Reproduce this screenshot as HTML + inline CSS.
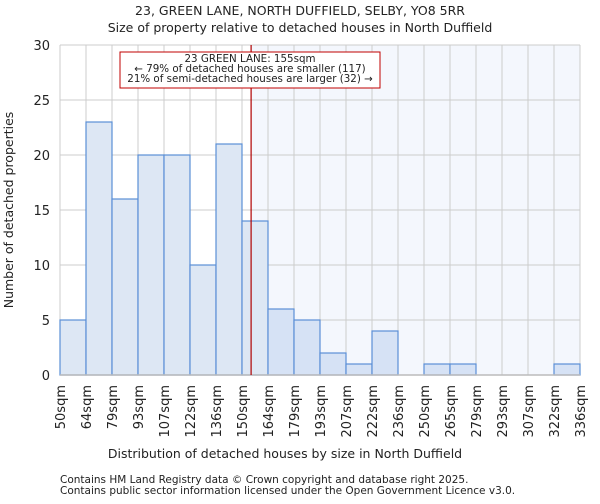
<!DOCTYPE html>
<html><head><meta charset="utf-8"><style>
body{margin:0;background:#fff;font-family:"DejaVu Sans","Liberation Sans",sans-serif;}
svg text{font-family:"DejaVu Sans","Liberation Sans",sans-serif;fill:#222;}
</style></head><body>
<svg id="c" width="600" height="500" viewBox="0 0 600 500">
<text x="300" y="15" text-anchor="middle" font-size="12.5">23, GREEN LANE, NORTH DUFFIELD, SELBY, YO8 5RR</text>
<text x="300" y="32" text-anchor="middle" font-size="12.5">Size of property relative to detached houses in North Duffield</text>
<g id="plot"></g>
<text x="285" y="458" text-anchor="middle" font-size="12.5">Distribution of detached houses by size in North Duffield</text>
<text transform="translate(13,210) rotate(-90)" text-anchor="middle" font-size="12.5">Number of detached properties</text>
<text x="60" y="483" font-size="10.5">Contains HM Land Registry data © Crown copyright and database right 2025.</text>
<text x="60" y="494" font-size="10.5">Contains public sector information licensed under the Open Government Licence v3.0.</text>
</svg>
<script>
const labels=["50sqm","64sqm","79sqm","93sqm","107sqm","122sqm","136sqm","150sqm","164sqm","179sqm","193sqm","207sqm","222sqm","236sqm","250sqm","265sqm","279sqm","293sqm","307sqm","322sqm","336sqm"];
const counts=[5,23,16,20,20,10,21,14,6,5,2,1,4,0,1,1,0,0,0,1];
const yTicks=[0,5,10,15,20,25,30];
const markerBin=7.35;
const NS="http://www.w3.org/2000/svg";
const L=60,R=580,T=45,B=375,yMax=30;
const nb=counts.length;
const xs=i=>L+(R-L)*i/nb;
const ys=v=>B-(B-T)*v/yMax;
const g=document.getElementById('plot');
function mk(t,a){const e=document.createElementNS(NS,t);for(const k in a)e.setAttribute(k,a[k]);g.appendChild(e);return e;}
const mx=xs(markerBin);
let e=mk('rect',{x:mx,y:T,width:R-mx,height:B-T,fill:'#f4f7fd'});


for(let i=0;i<=nb;i++){e=mk('line',{x1:xs(i),x2:xs(i),y1:T,y2:B,stroke:'#cccccc','stroke-width':1});

}
yTicks.forEach(v=>{e=mk('line',{x1:L,x2:R,y1:ys(v),y2:ys(v),stroke:'#cccccc','stroke-width':1});


const t=mk('text',{x:L-10,y:ys(v)+5,'text-anchor':'end','font-size':13});t.textContent=v;

});
counts.forEach((c,i)=>{if(c<=0)return;
const r=mk('rect',{x:xs(i),y:ys(c),width:xs(i+1)-xs(i),height:B-ys(c),fill:xs(i)>=mx-1?'#d6e2f5':'#dde7f4',stroke:'#5b8fd6','stroke-width':1.2});

});
e=mk('line',{x1:L,x2:R,y1:B,y2:B,stroke:'#bbbbbb','stroke-width':1.5});


labels.forEach((s,i)=>{const t=mk('text',{transform:`translate(${xs(i)+5},385) rotate(-90)`,'text-anchor':'end','font-size':13});t.textContent=s;

});
e=mk('line',{x1:mx,x2:mx,y1:T,y2:B,stroke:'#b00000','stroke-width':1.2});


e=mk('rect',{x:120,y:52,width:260,height:36,fill:'#fff',stroke:'#c00000','stroke-width':1});


["23 GREEN LANE: 155sqm","← 79% of detached houses are smaller (117)","21% of semi-detached houses are larger (32) →"].forEach((s,k)=>{const t=mk('text',{x:250,y:62+k*10,'text-anchor':'middle','font-size':10.3});t.textContent=s;

});
</script>
</body></html>
